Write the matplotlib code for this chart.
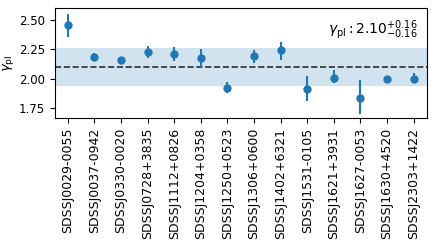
import matplotlib
matplotlib.use('Agg')
import matplotlib.pyplot as plt

names = ['SDSSJ0029-0055', 'SDSSJ0037-0942', 'SDSSJ0330-0020', 'SDSSJ0728+3835',
         'SDSSJ1112+0826', 'SDSSJ1204+0358', 'SDSSJ1250+0523', 'SDSSJ1306+0600',
         'SDSSJ1402+6321', 'SDSSJ1531-0105', 'SDSSJ1621+3931', 'SDSSJ1627-0053',
         'SDSSJ1630+4520', 'SDSSJ2303+1422']
gamma = [2.457, 2.186, 2.16, 2.23, 2.21, 2.18, 1.92, 2.19, 2.24, 1.91, 2.01, 1.84, 2.00, 2.00]
err_lo = [0.10, 0.03, 0.02, 0.05, 0.06, 0.08, 0.04, 0.06, 0.08, 0.10, 0.05, 0.14, 0.01, 0.04]
err_hi = [0.09, 0.03, 0.02, 0.05, 0.06, 0.07, 0.05, 0.05, 0.07, 0.11, 0.06, 0.15, 0.01, 0.05]

gamma_mean = 2.10
gamma_up = 0.16
gamma_down = 0.16

fig = plt.figure(figsize=(4.36, 2.49), dpi=100)
ax = fig.add_axes([0.125, 0.525, 0.854, 0.443])

x = list(range(len(names)))
ax.axhspan(gamma_mean - gamma_down, gamma_mean + gamma_up, color='C0', alpha=0.2, lw=0)
ax.axhline(gamma_mean, color='k', ls='--', lw=1.2, alpha=0.8)
ax.errorbar(x, gamma, yerr=[err_lo, err_hi], fmt='o', color='C0', ms=5, elinewidth=1.5)

ax.set_xticks(x)
ax.set_xticklabels(names, rotation=90, fontsize=9)
ax.set_xlim(-0.5, len(names) - 0.5)
ax.set_ylim(1.665, 2.60)
ax.set_yticks([1.75, 2.00, 2.25, 2.50])
ax.tick_params(axis='y', labelsize=8.5)
ax.set_ylabel(r'$\gamma_{\rm pl}$', fontsize=9.5, labelpad=2)
ax.text(0.975, 0.80, r'$\gamma_{\rm pl}: 2.10^{+0.16}_{-0.16}$', transform=ax.transAxes,
        ha='right', va='center', fontsize=10)

fig.savefig('out.png', dpi=100)
